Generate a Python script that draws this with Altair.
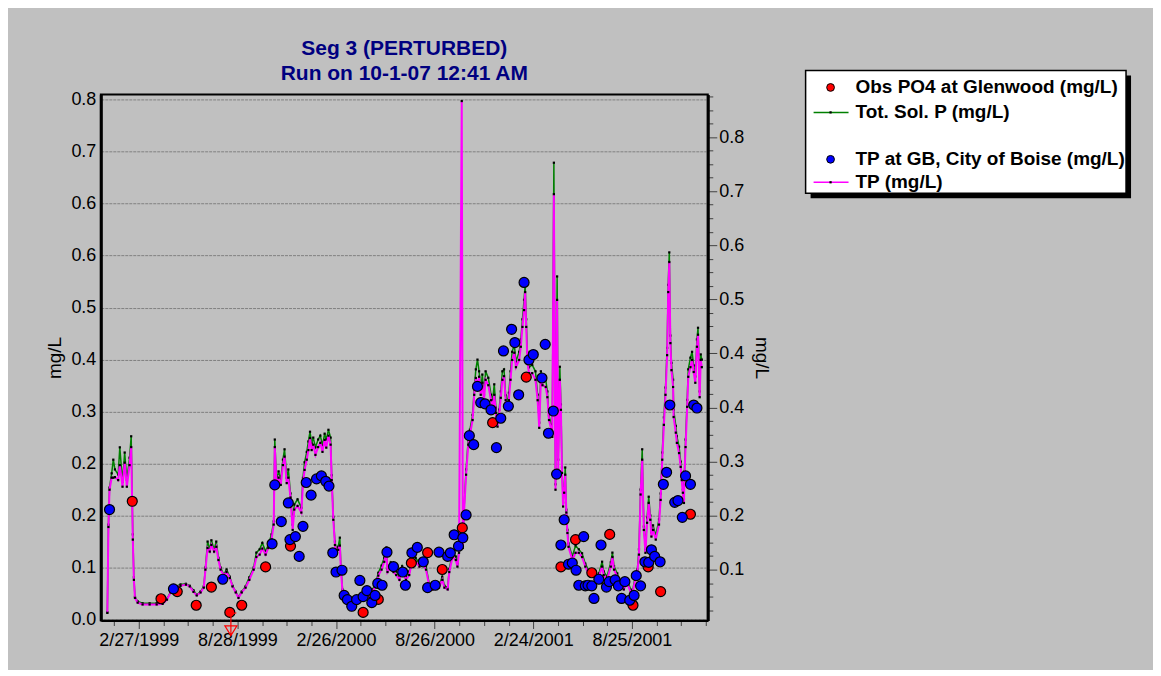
import json
import altair as alt
import pandas as pd

# ------------------------------------------------------------------
# Data
# ------------------------------------------------------------------
line_dates = [
    "1998-12-31","1999-01-02","1999-01-04","1999-01-08","1999-01-11","1999-01-14","1999-01-20","1999-01-23","1999-01-28","1999-02-01",
    "1999-02-05","1999-02-10","1999-02-13","1999-02-16","1999-02-18","1999-02-20","1999-02-25","1999-03-06","1999-03-19","1999-04-01",
    "1999-04-12","1999-04-20","1999-04-27","1999-05-06","1999-05-15","1999-05-25","1999-06-01","1999-06-08","1999-06-14","1999-06-21",
    "1999-06-27","1999-06-30","1999-07-04","1999-07-08","1999-07-11","1999-07-16","1999-07-20","1999-07-24","1999-07-28","1999-08-03",
    "1999-08-08","1999-08-14","1999-08-19","1999-08-25","1999-08-30","1999-09-05","1999-09-12","1999-09-19","1999-09-27","1999-10-02",
    "1999-10-08","1999-10-13","1999-10-19","1999-10-24","1999-10-30","1999-11-03","1999-11-05","1999-11-08","1999-11-12","1999-11-16",
    "1999-11-20","1999-11-23","1999-11-27","1999-11-30","1999-12-04","1999-12-08","1999-12-11","1999-12-17","1999-12-24","1999-12-27",
    "1999-12-30","2000-01-03","2000-01-06","2000-01-09","2000-01-12","2000-01-15","2000-01-19","2000-01-24","2000-01-28","2000-02-01",
    "2000-02-05","2000-02-08","2000-02-12","2000-02-16","2000-02-18","2000-02-21","2000-02-24","2000-02-27","2000-03-01","2000-03-04",
    "2000-03-06","2000-03-09","2000-03-14","2000-03-22","2000-03-29","2000-04-05","2000-04-13","2000-04-20","2000-04-28","2000-05-03",
    "2000-05-09","2000-05-14","2000-05-20","2000-05-25","2000-05-29","2000-05-31","2000-06-06","2000-06-11","2000-06-16","2000-06-22",
    "2000-06-27","2000-07-04","2000-07-10","2000-07-16","2000-07-22","2000-07-29","2000-08-03","2000-08-10","2000-08-16","2000-08-22",
    "2000-08-29","2000-09-03","2000-09-09","2000-09-13","2000-09-19","2000-09-22","2000-09-28","2000-10-04","2000-10-07","2000-10-10",
    "2000-10-15","2000-10-17","2000-10-19","2000-10-23","2000-10-27","2000-10-30","2000-11-04","2000-11-07","2000-11-10","2000-11-13",
    "2000-11-16","2000-11-19","2000-11-22","2000-11-25","2000-11-28","2000-12-03","2000-12-08","2000-12-11","2000-12-14","2000-12-17",
    "2000-12-20","2000-12-23","2000-12-26","2000-12-29","2001-01-01","2001-01-04","2001-01-07","2001-01-10","2001-01-13","2001-01-16",
    "2001-01-20","2001-01-23","2001-01-29","2001-02-01","2001-02-04","2001-02-07","2001-02-09","2001-02-11","2001-02-13","2001-02-16",
    "2001-02-22","2001-02-28","2001-03-04","2001-03-07","2001-03-10","2001-03-13","2001-03-19","2001-03-22","2001-03-25","2001-03-29",
    "2001-03-31","2001-04-03","2001-04-06","2001-04-09","2001-04-11","2001-04-14","2001-04-16","2001-04-18","2001-04-20","2001-04-22",
    "2001-04-24","2001-04-26","2001-04-28","2001-04-30","2001-05-07","2001-05-13","2001-05-19","2001-05-25","2001-05-31","2001-06-07",
    "2001-06-13","2001-06-19","2001-06-25","2001-07-01","2001-07-04","2001-07-10","2001-07-17","2001-07-20","2001-07-23","2001-07-29",
    "2001-08-04","2001-08-10","2001-08-16","2001-08-23","2001-08-25","2001-08-31","2001-09-04","2001-09-07","2001-09-10","2001-09-13",
    "2001-09-16","2001-09-19","2001-09-22","2001-09-25","2001-09-28","2001-09-30","2001-10-03","2001-10-08","2001-10-14","2001-10-17",
    "2001-10-20","2001-10-23","2001-10-26","2001-10-29","2001-10-31","2001-11-02","2001-11-04","2001-11-06","2001-11-09","2001-11-10",
    "2001-11-14","2001-11-16","2001-11-20","2001-11-23","2001-11-25","2001-11-27","2001-11-29","2001-11-30","2001-12-02","2001-12-05",
    "2001-12-07","2001-12-11","2001-12-14","2001-12-17","2001-12-20","2001-12-23","2001-12-25","2001-12-28","2001-12-30","2002-01-01",
]

# Tot. Sol. P (mg/L) -- left axis
tsp_mgL = [
    0.011,0.146,0.203,0.225,0.246,0.231,0.223,0.265,0.212,0.257,
    0.215,0.249,0.282,0.131,0.065,0.035,0.028,0.025,0.025,0.025,
    0.026,0.032,0.043,0.051,0.054,0.055,0.052,0.045,0.038,0.043,
    0.051,0.080,0.120,0.108,0.122,0.108,0.120,0.095,0.080,0.069,
    0.077,0.066,0.052,0.043,0.035,0.043,0.051,0.065,0.080,0.103,
    0.108,0.118,0.105,0.115,0.131,0.151,0.277,0.215,0.228,0.215,
    0.246,0.262,0.218,0.231,0.194,0.146,0.177,0.185,0.172,0.218,
    0.242,0.258,0.274,0.289,0.271,0.280,0.265,0.277,0.283,0.268,
    0.286,0.277,0.292,0.280,0.222,0.158,0.120,0.108,0.112,0.126,
    0.082,0.046,0.034,0.028,0.029,0.032,0.034,0.037,0.035,0.046,
    0.055,0.072,0.083,0.095,0.111,0.077,0.088,0.078,0.074,0.065,
    0.082,0.065,0.074,0.097,0.095,0.086,0.092,0.082,0.055,0.049,
    0.052,0.052,0.066,0.052,0.049,0.078,0.103,0.097,0.086,0.108,
    0.111,0.114,0.166,0.231,0.277,0.292,0.315,0.354,0.385,0.400,
    0.382,0.354,0.377,0.346,0.382,0.372,0.346,0.338,0.362,0.326,
    0.305,0.323,0.351,0.382,0.385,0.345,0.334,0.349,0.382,0.412,
    0.423,0.397,0.412,0.431,0.462,0.492,0.515,0.462,0.412,0.388,
    0.392,0.382,0.346,0.303,0.382,0.372,0.369,0.351,0.314,0.300,
    0.289,0.703,0.208,0.528,0.246,0.389,0.331,0.234,0.180,0.203,
    0.234,0.169,0.138,0.117,0.097,0.114,0.108,0.102,0.086,0.074,
    0.074,0.066,0.071,0.089,0.074,0.066,0.088,0.103,0.082,0.071,
    0.055,0.051,0.062,0.046,0.038,0.066,0.077,0.108,0.200,0.262,
    0.143,0.108,0.157,0.189,0.160,0.134,0.145,0.129,0.154,0.194,
    0.257,0.311,0.357,0.418,0.515,0.565,0.437,0.395,0.369,0.323,
    0.298,0.282,0.266,0.243,0.222,0.200,0.185,0.228,0.277,0.338,
    0.385,0.403,0.412,0.391,0.374,0.431,0.449,0.351,0.408,0.400,
]

# TP (mg/L) -- right axis
tp_mgL = [
    0.018,0.161,0.223,0.243,0.243,0.244,0.239,0.264,0.228,0.268,
    0.228,0.264,0.294,0.140,0.073,0.043,0.035,0.032,0.032,0.032,
    0.033,0.040,0.052,0.060,0.063,0.065,0.062,0.053,0.047,0.052,
    0.060,0.090,0.126,0.120,0.131,0.120,0.128,0.106,0.090,0.080,
    0.086,0.076,0.062,0.052,0.043,0.052,0.060,0.073,0.090,0.111,
    0.115,0.125,0.115,0.126,0.140,0.165,0.294,0.234,0.243,0.231,
    0.264,0.278,0.234,0.243,0.210,0.156,0.190,0.196,0.185,0.234,
    0.256,0.273,0.289,0.309,0.289,0.298,0.281,0.294,0.301,0.286,
    0.306,0.293,0.313,0.298,0.239,0.173,0.131,0.118,0.123,0.130,
    0.090,0.053,0.040,0.035,0.037,0.040,0.040,0.045,0.043,0.053,
    0.062,0.080,0.090,0.103,0.118,0.086,0.095,0.086,0.081,0.073,
    0.090,0.073,0.081,0.106,0.103,0.095,0.101,0.090,0.063,0.057,
    0.060,0.060,0.073,0.060,0.057,0.086,0.111,0.106,0.095,0.118,
    0.870,0.126,0.181,0.248,0.298,0.314,0.339,0.381,0.409,0.394,
    0.411,0.381,0.401,0.372,0.406,0.397,0.372,0.361,0.381,0.351,
    0.328,0.348,0.376,0.406,0.412,0.372,0.361,0.372,0.406,0.439,
    0.451,0.427,0.439,0.461,0.494,0.522,0.552,0.494,0.439,0.417,
    0.417,0.406,0.372,0.326,0.406,0.397,0.394,0.377,0.339,0.323,
    0.311,0.715,0.223,0.539,0.256,0.406,0.356,0.251,0.195,0.218,
    0.248,0.185,0.151,0.128,0.106,0.118,0.118,0.111,0.095,0.081,
    0.081,0.073,0.078,0.095,0.081,0.073,0.095,0.111,0.090,0.078,
    0.062,0.057,0.068,0.052,0.045,0.073,0.085,0.115,0.215,0.273,
    0.156,0.118,0.168,0.201,0.173,0.145,0.156,0.140,0.165,0.206,
    0.273,0.331,0.381,0.447,0.552,0.602,0.467,0.422,0.394,0.344,
    0.318,0.301,0.284,0.261,0.239,0.218,0.201,0.244,0.294,0.361,
    0.411,0.427,0.439,0.419,0.401,0.461,0.481,0.377,0.439,0.427,
]

# Obs PO4 at Glenwood (mg/L) -- left axis
po4_dates = [
    "1999-02-15","1999-04-09","1999-05-09","1999-06-13","1999-07-11","1999-08-14","1999-09-05",
    "1999-10-19","1999-12-04","2000-04-16","2000-05-14","2000-07-14","2000-08-13","2000-09-09",
    "2000-10-16","2000-12-11","2001-02-11","2001-04-16","2001-05-13","2001-06-12","2001-07-15",
    "2001-08-27","2001-09-24","2001-10-17","2001-12-11",
]
po4_mgL = [
    0.182,0.032,0.043,0.022,0.050,0.011,0.022,
    0.081,0.113,0.011,0.031,0.087,0.103,0.077,
    0.141,0.303,0.373,0.081,0.123,0.072,0.131,
    0.022,0.081,0.043,0.162,
]

# TP at GB, City of Boise (mg/L) -- right axis
tpgb_dates = [
    "1999-01-04","1999-05-02","1999-08-01","1999-10-31","1999-11-05","1999-11-17","1999-11-30","1999-12-03",
    "1999-12-13","1999-12-20","1999-12-27","2000-01-02","2000-01-11","2000-01-21","2000-01-30","2000-02-07",
    "2000-02-13","2000-02-20","2000-02-26","2000-03-08","2000-03-12","2000-03-18","2000-03-26","2000-04-04",
    "2000-04-10","2000-04-16","2000-04-23","2000-05-02","2000-05-08","2000-05-13","2000-05-21","2000-05-30",
    "2000-06-11","2000-06-28","2000-07-03","2000-07-15","2000-07-25","2000-08-05","2000-08-13","2000-08-27",
    "2000-09-03","2000-09-19","2000-09-24","2000-10-01","2000-10-09","2000-10-17","2000-10-23","2000-10-29",
    "2000-11-06","2000-11-13","2000-11-19","2000-11-27","2000-12-08","2000-12-18","2000-12-26","2000-12-31",
    "2001-01-09","2001-01-15","2001-01-21","2001-01-28","2001-02-07","2001-02-16","2001-02-24","2001-03-12",
    "2001-03-18","2001-03-24","2001-04-02","2001-04-08","2001-04-16","2001-04-22","2001-04-30","2001-05-07",
    "2001-05-14","2001-05-19","2001-05-28","2001-05-31","2001-06-05","2001-06-12","2001-06-16","2001-06-25",
    "2001-06-29","2001-07-09","2001-07-14","2001-07-25","2001-07-31","2001-08-06","2001-08-12","2001-08-21",
    "2001-08-29","2001-09-02","2001-09-10","2001-09-18","2001-09-25","2001-09-30","2001-10-06","2001-10-16",
    "2001-10-22","2001-10-28","2001-11-03","2001-11-12","2001-11-18","2001-11-26","2001-12-02","2001-12-11",
    "2001-12-17","2001-12-23",
]
tpgb_mgL = [
    0.190,0.058,0.074,0.133,0.231,0.170,0.201,0.140,
    0.145,0.112,0.162,0.235,0.214,0.241,0.246,0.237,
    0.229,0.118,0.086,0.089,0.047,0.040,0.029,0.040,
    0.072,0.045,0.055,0.035,0.047,0.067,0.064,0.119,
    0.095,0.086,0.064,0.118,0.127,0.103,0.060,0.064,
    0.119,0.112,0.118,0.148,0.129,0.143,0.181,0.313,
    0.298,0.395,0.368,0.366,0.356,0.293,0.342,0.454,
    0.362,0.490,0.468,0.381,0.568,0.439,0.448,0.409,
    0.465,0.317,0.354,0.249,0.131,0.173,0.099,0.101,
    0.089,0.064,0.145,0.063,0.064,0.063,0.042,0.074,
    0.131,0.061,0.070,0.073,0.063,0.042,0.070,0.039,
    0.047,0.080,0.063,0.103,0.102,0.123,0.112,0.103,
    0.232,0.252,0.364,0.202,0.205,0.177,0.246,0.232,
    0.364,0.359,
]

# Below-detection marker (drawn under the axis)
censored_dates = ["1999-08-16"]
censored_mgL = [-0.008]

# Axis ticks and labels
x_major_dates = ["1999-02-27", "1999-08-28", "2000-02-26", "2000-08-26", "2001-02-24", "2001-08-25"]
x_tick_labels = ["2/27/1999", "8/28/1999", "2/26/2000", "8/26/2000", "2/24/2001", "8/25/2001"]
x_domain_dates = ["1998-12-19", "2002-01-12"]
left_ticks = [0.0, 0.08, 0.16, 0.24, 0.32, 0.40, 0.48, 0.56, 0.64, 0.72, 0.80]
left_tick_labels = ["0.0", "0.1", "0.2", "0.2", "0.3", "0.4", "0.5", "0.6", "0.6", "0.7", "0.8"]
right_ticks = [0.09, 0.18, 0.27, 0.36, 0.45, 0.54, 0.63, 0.72, 0.81]
right_tick_labels = ["0.1", "0.2", "0.3", "0.4", "0.4", "0.5", "0.6", "0.7", "0.8"]
left_domain = [-0.0015, 0.8081]
right_domain = [0.0053, 0.881]

legend_labels = [
    "Obs PO4 at Glenwood (mg/L)",
    "Tot. Sol. P (mg/L)",
    "TP at GB, City of Boise (mg/L)",
    "TP (mg/L)",
]
title_lines = ["Seg 3 (PERTURBED)", "Run on 10-1-07 12:41 AM"]

# ------------------------------------------------------------------
FONT = "Liberation Sans"
BG = "#C0C0C0"
DAY_MS = 86400000


def ms(s):
    return int(pd.Timestamp(s, tz="UTC").value // 10**6)


major_ms = [ms(d) for d in x_major_dates]
minor_step = int(45.5 * DAY_MS)
minor_ms = [major_ms[0] - minor_step] + [m + k * minor_step for m in major_ms for k in (1, 2, 3)]
x_tick_ms = sorted(major_ms + minor_ms)
right_all_ticks = [round(0.0225 * k, 4) for k in range(1, 40)]

maj_js = json.dumps(major_ms)
x_label_expr = (
    f"indexof({maj_js}, time(datum.value)) >= 0 ? "
    f"{json.dumps(x_tick_labels)}[indexof({maj_js}, time(datum.value))] : ''"
)
x_axis = alt.Axis(
    values=x_tick_ms,
    labelExpr=x_label_expr,
    tickSize={"condition": {"test": f"indexof({maj_js}, time(datum.value)) >= 0", "value": 8}, "value": 5},
    tickColor="#404040",
    tickWidth=1,
    domainColor="black",
    domainWidth=2,
    labelFont=FONT,
    labelFontSize=18,
    labelColor="black",
    labelPadding=3,
    labelOverlap=False,
    labelFlush=False,
    grid=False,
    title=None,
)
x_scale = alt.Scale(type="utc", domain=[ms(x_domain_dates[0]), ms(x_domain_dates[1])])
X = alt.X("date:T", scale=x_scale, axis=x_axis)

lt_js = json.dumps(left_ticks)
left_axis = alt.Axis(
    orient="left",
    values=left_ticks,
    labelExpr=f"{json.dumps(left_tick_labels)}[indexof({lt_js}, datum.value)]",
    ticks=False,
    grid=True,
    gridColor="#808080",
    gridDash=[3, 1],
    gridWidth=1,
    domainColor="black",
    domainWidth=3,
    labelFont=FONT,
    labelFontSize=18,
    labelColor="black",
    labelPadding=5,
    title="mg/L",
    titleFont=FONT,
    titleFontSize=19,
    titleFontWeight="normal",
    titleColor="black",
    titlePadding=6,
)
rt_js = json.dumps(right_ticks)
right_axis = alt.Axis(
    orient="right",
    values=right_all_ticks,
    labelExpr=f"indexof({rt_js}, datum.value) >= 0 ? {json.dumps(right_tick_labels)}[indexof({rt_js}, datum.value)] : ''",
    tickSize={"condition": {"test": f"indexof({rt_js}, datum.value) >= 0", "value": 9}, "value": 5},
    tickColor="#404040",
    grid=False,
    domainColor="black",
    domainWidth=3,
    labelFont=FONT,
    labelFontSize=18,
    labelColor="black",
    labelPadding=2,
    labelOverlap=False,
    title="mg/L",
    titleFont=FONT,
    titleFontSize=19,
    titleFontWeight="normal",
    titleColor="black",
    titlePadding=8,
)

left_scale = alt.Scale(domain=left_domain, nice=False, zero=False)
right_scale = alt.Scale(domain=right_domain, nice=False, zero=False)

line_df = pd.DataFrame({"date": line_dates, "tsp": tsp_mgL, "tp": tp_mgL})
po4_df = pd.DataFrame({"date": po4_dates, "po4": po4_mgL})
tpgb_df = pd.DataFrame({"date": tpgb_dates, "tpgb": tpgb_mgL})
cens_df = pd.DataFrame({"date": censored_dates, "v": censored_mgL})

green_line = alt.Chart(line_df).mark_line(color="#008000", strokeWidth=1.5).encode(
    x=X, y=alt.Y("tsp:Q", scale=left_scale, axis=left_axis))
green_pts = alt.Chart(line_df).mark_square(size=5, color="black", opacity=1).encode(
    x=X, y=alt.Y("tsp:Q", scale=left_scale, axis=None))
mag_line = alt.Chart(line_df).mark_line(color="#FF00FF", strokeWidth=2).encode(
    x=X, y=alt.Y("tp:Q", scale=right_scale, axis=right_axis))
mag_pts = alt.Chart(line_df).mark_square(size=5, color="black", opacity=1).encode(
    x=X, y=alt.Y("tp:Q", scale=right_scale, axis=None))
red_dots = alt.Chart(po4_df).mark_circle(size=100, color="#FF0000", stroke="black", strokeWidth=1.2, opacity=1).encode(
    x=X, y=alt.Y("po4:Q", scale=left_scale, axis=None))
blue_dots = alt.Chart(tpgb_df).mark_circle(size=100, color="#0000FF", stroke="black", strokeWidth=1.2, opacity=1).encode(
    x=X, y=alt.Y("tpgb:Q", scale=right_scale, axis=None))
censored = alt.Chart(cens_df).mark_point(
    shape="M0,-1L0,0.9M-0.55,0.1L0.55,0.1L0,1ZM0,-0.95L0.5,-1.1",
    size=480, filled=False, stroke="#FF0000", strokeWidth=1.2, opacity=1,
).encode(x=X, y=alt.Y("v:Q", scale=left_scale, axis=None))

# ---- legend (drawn as marks, positions in pixels relative to plot) ----
one = alt.Data(values=[{"k": 0}])
LX0, LX1, LY0, LY1 = 706, 1027, -24, 99
leg_layers = [
    alt.Chart(one).mark_rect(color="black").encode(
        x=alt.value(LX0 + 5), x2=alt.value(LX1 + 5), y=alt.value(LY0 + 5), y2=alt.value(LY1 + 5)),
    alt.Chart(one).mark_rect(fill="white", stroke="black", strokeWidth=1.5).encode(
        x=alt.value(LX0), x2=alt.value(LX1), y=alt.value(LY0), y2=alt.value(LY1)),
]
row_y = [-7, 18, 65, 88]
for i, lab in enumerate(legend_labels):
    y = row_y[i]
    if i in (0, 2):
        col = "#FF0000" if i == 0 else "#0000FF"
        leg_layers.append(alt.Chart(one).mark_circle(size=60, color=col, stroke="black", strokeWidth=1, opacity=1).encode(
            x=alt.value(731), y=alt.value(y)))
    else:
        col = "#008000" if i == 1 else "#FF00FF"
        leg_layers.append(alt.Chart(one).mark_rule(color=col, strokeWidth=1.5).encode(
            x=alt.value(714), x2=alt.value(749), y=alt.value(y)))
        leg_layers.append(alt.Chart(one).mark_square(size=5, color="black", opacity=1).encode(
            x=alt.value(731), y=alt.value(y)))
    leg_layers.append(alt.Chart(one).mark_text(
        text=lab, align="left", baseline="middle", font=FONT, fontSize=19, fontWeight="bold", color="black"
    ).encode(x=alt.value(756), y=alt.value(y)))

chart = alt.layer(
    green_line, green_pts, mag_line, mag_pts, red_dots, blue_dots, censored, *leg_layers
).resolve_scale(y="independent").properties(
    width=608,
    height=527,
    title=alt.TitleParams(
        text=title_lines, font=FONT, fontSize=21, fontWeight="bold", color="#000080",
        anchor="middle", frame="group", offset=-14, lineHeight=25,
    ),
    background=BG,
    padding={"left": 93, "top": 86, "right": 446, "bottom": 49},
    autosize=alt.AutoSizeParams(type="none"),
).configure_view(stroke="black", strokeWidth=2, fill=BG)

chart.save("out.html", embed_options={"renderer": "svg", "actions": False})
